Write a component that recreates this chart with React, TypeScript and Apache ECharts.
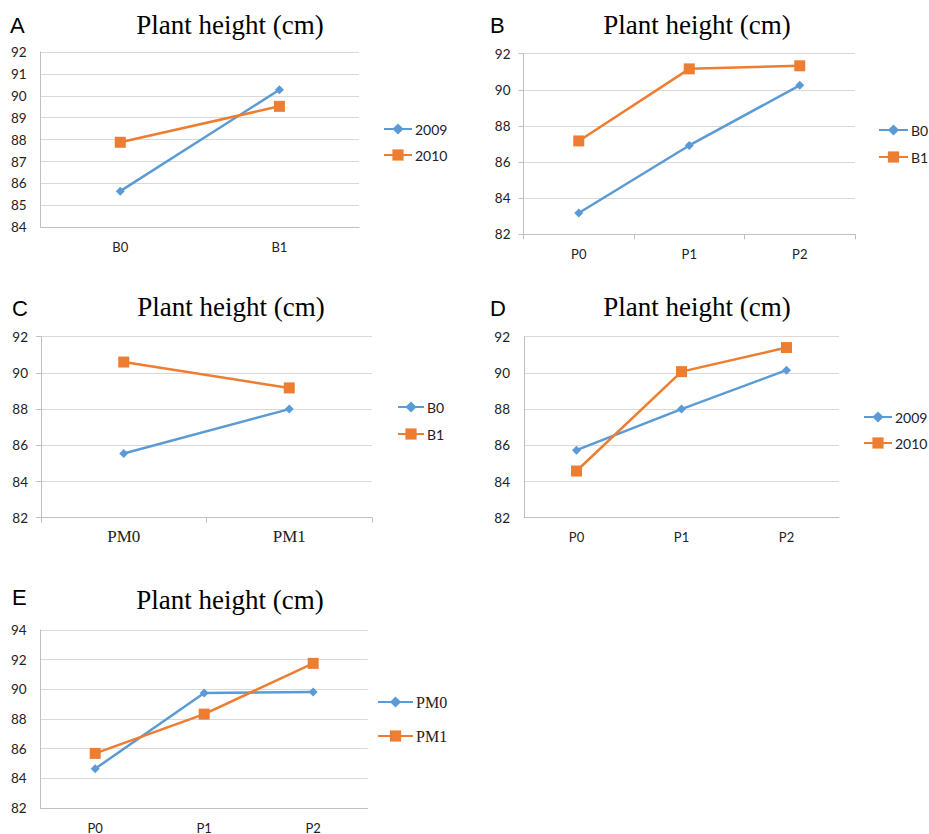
import React, { useEffect, useRef } from "react";
import * as echarts from "echarts";

const catsAB = ["B0", "B1"];
const catsP = ["P0", "P1", "P2"];
const catsPM = ["PM0", "PM1"];

const a2009 = [85.65, 90.28];
const a2010 = [87.88, 89.52];
const bB0 = [83.18, 86.92, 90.25];
const bB1 = [87.17, 91.16, 91.33];
const cB0 = [85.55, 88.0];
const cB1 = [90.6, 89.17];
const d2009 = [85.73, 88.0, 90.15];
const d2010 = [84.58, 90.07, 91.4];
const ePM0 = [84.65, 89.75, 89.82];
const ePM1 = [85.68, 88.33, 91.75];

const panelLetters = ["A", "B", "C", "D", "E"];
const titleText = "Plant height (cm)";

const BLUE = "#5b9bd5";
const ORANGE = "#ed7d31";
const SANS = "Lato, 'Liberation Sans', sans-serif";
const SERIF = "'Liberation Serif', 'Times New Roman', serif";

export default function App() {
  const ref = useRef<HTMLDivElement>(null);
  useEffect(() => {
    if (!ref.current) return;
    const chart = echarts.init(ref.current, undefined, { renderer: "svg" });

    const panels = [
      {
        grid: { left: 40.7, top: 52, width: 318.3, height: 175.3 },
        cats: catsAB, min: 84, max: 92, interval: 1,
        s: [["2009", a2009], ["2010", a2010]],
        legend: { left: 383, top: 122, itemGap: 12, itemWidth: 28 },
        legendFont: SANS, legendSize: 14,
        catFont: SANS, catSize: 13, xTick: false, yTick: false,
        title: [230, 25], letter: [10, 25],
      },
      {
        grid: { left: 523.5, top: 53.7, width: 331.5, height: 180.6 },
        cats: catsP, min: 82, max: 92, interval: 2,
        s: [["B0", bB0], ["B1", bB1]],
        legend: { left: 878, top: 123, itemGap: 13, itemWidth: 29 },
        legendFont: SANS, legendSize: 14,
        catFont: SANS, catSize: 13, xTick: true, yTick: true,
        title: [697, 25], letter: [490, 25],
      },
      {
        grid: { left: 41, top: 336.7, width: 331, height: 181 },
        cats: catsPM, min: 82, max: 92, interval: 2,
        s: [["B0", cB0], ["B1", cB1]],
        legend: { left: 397, top: 400, itemGap: 13, itemWidth: 26 },
        legendFont: SANS, legendSize: 14,
        catFont: SERIF, catSize: 17, xTick: true, yTick: true,
        title: [231, 307], letter: [12, 308],
      },
      {
        grid: { left: 524, top: 336.7, width: 315, height: 181 },
        cats: catsP, min: 82, max: 92, interval: 2,
        s: [["2009", d2009], ["2010", d2010]],
        legend: { left: 863, top: 410, itemGap: 12, itemWidth: 28 },
        legendFont: SANS, legendSize: 14,
        catFont: SANS, catSize: 13, xTick: false, yTick: false,
        title: [697, 307], letter: [490, 308],
      },
      {
        grid: { left: 40.7, top: 630, width: 327, height: 178.7 },
        cats: catsP, min: 82, max: 94, interval: 2,
        s: [["PM0", ePM0], ["PM1", ePM1]],
        legend: { left: 377, top: 694, itemGap: 18, itemWidth: 35 },
        legendFont: SERIF, legendSize: 16,
        catFont: SANS, catSize: 13, xTick: false, yTick: false,
        title: [230, 600], letter: [12, 597],
      },
    ];

    const grids: any[] = [];
    const xAxes: any[] = [];
    const yAxes: any[] = [];
    const series: any[] = [];
    const legends: any[] = [];
    const graphics: any[] = [];

    panels.forEach((p, i) => {
      grids.push({ ...p.grid, containLabel: false });
      xAxes.push({
        type: "category",
        gridIndex: i,
        data: p.cats,
        boundaryGap: true,
        axisLine: { show: true, lineStyle: { color: "#bfbfbf", width: 1 } },
        axisTick: { show: p.xTick, length: 5, lineStyle: { color: "#bfbfbf" } },
        axisLabel: {
          color: "#222",
          fontFamily: p.catFont,
          fontSize: p.catSize,
          margin: p.catFont === SERIF ? 10 : 13,
        },
        splitLine: { show: false },
      });
      yAxes.push({
        type: "value",
        gridIndex: i,
        min: p.min,
        max: p.max,
        interval: p.interval,
        axisLine: { show: true, lineStyle: { color: "#bfbfbf", width: 1 } },
        axisTick: { show: p.yTick, length: 5, lineStyle: { color: "#bfbfbf" } },
        axisLabel: { color: "#222", fontFamily: SANS, fontSize: 13.5, margin: p.yTick ? 13 : 14 },
        splitLine: { show: true, lineStyle: { color: "#d9d9d9", width: 1 } },
      });
      p.s.forEach(([name, vals], k) => {
        series.push({
          type: "line",
          name,
          xAxisIndex: i,
          yAxisIndex: i,
          data: vals,
          symbol: k === 0 ? "diamond" : "rect",
          symbolSize: k === 0 ? 9 : 11,
          showAllSymbol: true,
          lineStyle: { color: k === 0 ? BLUE : ORANGE, width: 2.5 },
          itemStyle: { color: k === 0 ? BLUE : ORANGE },
          emphasis: { disabled: true },
          z: k + 2,
        });
      });
      legends.push({
        orient: "vertical",
        left: p.legend.left,
        top: p.legend.top,
        padding: 0,
        itemGap: p.legend.itemGap,
        itemWidth: p.legend.itemWidth,
        itemHeight: 14,
        selectedMode: false,
        data: p.s.map(([name]) => name),
        textStyle: { fontFamily: p.legendFont, fontSize: p.legendSize, color: "#222", padding: [0, 0, 0, -2] },
      });
      graphics.push({
        type: "text",
        x: p.title[0],
        y: p.title[1],
        style: {
          text: titleText,
          font: `27px ${SERIF}`,
          fill: "#000",
          textAlign: "center",
          textVerticalAlign: "middle",
        },
      });
      graphics.push({
        type: "text",
        x: p.letter[0],
        y: p.letter[1],
        style: {
          text: panelLetters[i],
          font: `22px 'Liberation Sans', Arial, sans-serif`,
          fill: "#000",
          textAlign: "left",
          textVerticalAlign: "middle",
        },
      });
    });

    chart.setOption({
      animation: false,
      backgroundColor: "#fff",
      grid: grids,
      xAxis: xAxes,
      yAxis: yAxes,
      series,
      legend: legends,
      graphic: graphics,
    });

    return () => chart.dispose();
  }, []);

  return (
    <div
      ref={ref}
      style={{ position: "absolute", left: 0, top: 0, width: 929, height: 834 }}
    />
  );
}
